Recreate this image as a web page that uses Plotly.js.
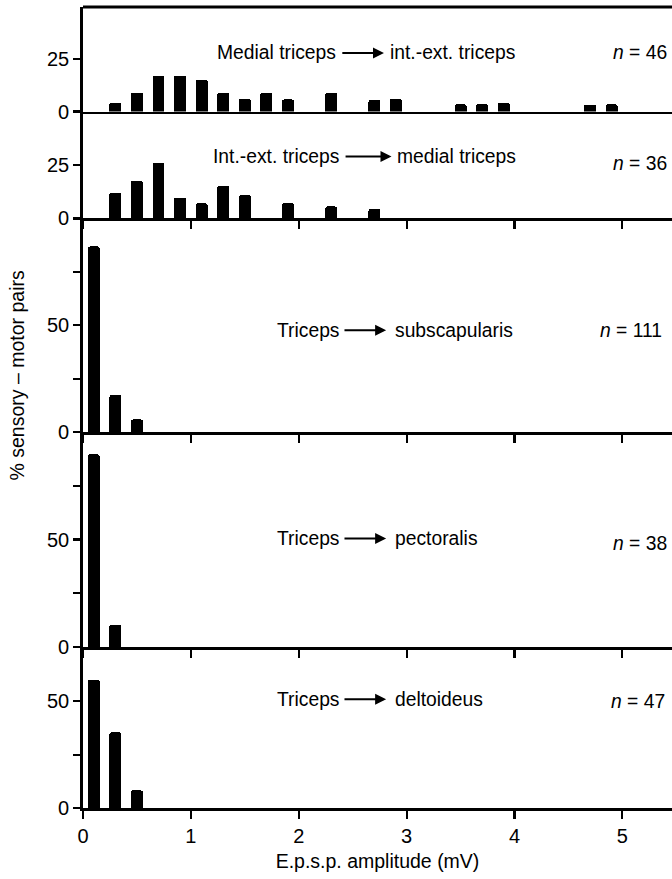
<!DOCTYPE html>
<html>
<head>
<meta charset="utf-8">
<script src="https://cdn.plot.ly/plotly-3.0.1.min.js"></script>
<style>html,body{margin:0;padding:0;background:#fff;}#chart{width:672px;height:879px;}</style>
</head>
<body>
<div id="chart"></div>
<script>
// E.p.s.p. amplitude bin centres (mV) and % of sensory-motor pairs
const bins1 = [0.3,0.5,0.7,0.9,1.1,1.3,1.5,1.7,1.9,2.3,2.7,2.9,3.5,3.7,3.9,4.7,4.9];
const pct1  = [4.3,9.1,17.2,17.2,15.2,9.1,6.1,9.1,5.8,9.1,5.5,6.1,3.5,3.5,4.2,3.3,3.5];
const bins2 = [0.3,0.5,0.7,0.9,1.1,1.3,1.5,1.9,2.3,2.7];
const pct2  = [12.1,17.7,26.1,9.8,7.1,15.2,10.9,7.1,5.6,4.4];
const bins3 = [0.1,0.3,0.5];
const pct3  = [86.9,17.4,5.9];
const bins4 = [0.1,0.3];
const pct4  = [89.6,10.4];
const bins5 = [0.1,0.3,0.5];
const pct5  = [60.2,35.5,8.3];

const panelFrom = ["Medial triceps","Int.-ext. triceps","Triceps","Triceps","Triceps"];
const panelTo   = ["int.-ext. triceps","medial triceps","subscapularis","pectoralis","deltoideus"];
const panelN    = ["46","36","111","38","47"];
const xTickVals = [0,1,2,3,4,5];
const xTickText = ["0","1","2","3","4","5"];
const xTitle = "E.p.s.p. amplitude (mV)";
const yTitle = "% sensory \u2013 motor pairs";

const FONT = "Liberation Sans, Arial, Helvetica, sans-serif";
const TXT = 19.3;
const allBins = [bins1,bins2,bins3,bins4,bins5];
const allPct = [pct1,pct2,pct3,pct4,pct5];

const traces = allBins.map((b,i)=>({
  type:'bar', x:b, y:allPct[i], width:0.11,
  xaxis: i===0?'x':'x'+(i+1), yaxis: i===0?'y':'y'+(i+1),
  marker:{color:'#000', line:{width:0}, cornerradius:2},
  showlegend:false, hoverinfo:'skip'
}));

const domains = [[0.8695,1],[0.736,0.8695],[0.4694,0.736],[0.201,0.4694],[0,0.201]];
const yRanges = [[0,50],[0,50],[0,100],[0,100],[0,75.5]];
const yTicks = [[0,25],[0,25],[0,25,50,75],[0,25,50,75],[0,25,50]];
const yTickText = [["0","25"],["0","25"],["0","","50",""],["0","","50",""],["0","","50"]];

const layout = {
  width:672, height:879,
  margin:{l:83, r:0, t:7, b:71},
  paper_bgcolor:'#fff', plot_bgcolor:'#fff',
  font:{family:FONT, size:TXT, color:'#000'},
  bargap:0,
  annotations:[], shapes:[]
};

for(let i=0;i<5;i++){
  const xs = i===0?'xaxis':'xaxis'+(i+1);
  const ys = i===0?'yaxis':'yaxis'+(i+1);
  const yid = i===0?'y':'y'+(i+1);
  const xid = i===0?'x':'x'+(i+1);
  layout[xs] = {
    domain:[0,1], anchor:yid, range:[0,5.46], fixedrange:true,
    showline:true, linewidth:2.8, linecolor:'#000', mirror:false,
    showgrid:false, zeroline:false,
    tickvals:xTickVals, ticktext:xTickText,
    ticks: i===0?'':'outside', ticklen:8, tickwidth:2.2, tickcolor:'#000',
    showticklabels: i===4,
    tickfont:{family:FONT, size:20, color:'#000'}
  };
  if(i===4){
    layout[xs].title = {text:xTitle, font:{family:FONT,size:19.5,color:'#000'}, standoff:9};
  }
  layout[ys] = {
    domain:domains[i], anchor:xid, range:yRanges[i], fixedrange:true,
    showline:true, linewidth:2.8, linecolor:'#000',
    showgrid:false, zeroline:false,
    tickvals:yTicks[i], ticktext:yTickText[i],
    ticks:'outside', ticklen:7, tickwidth:2.2, tickcolor:'#000',
    tickfont:{family:FONT, size:20, color:'#000'}
  };
}

// Panel text: label, arrow, target, n
const labelY = [28.0, 29.0, 47.7, 50.5, 51.0];
const nY     = [28.0, 25.5, 47.7, 48.0, 50.0];
const nRight = [5.436, 5.436, 5.39, 5.436, 5.41];
const fromRight = [2.365, 2.39, 2.40, 2.40, 2.40];
const arrowTail = [2.39, 2.42, 2.41, 2.41, 2.41];
const arrowHead = [2.79, 2.86, 2.81, 2.81, 2.81];
const toLeft    = [2.83, 2.89, 2.875, 2.875, 2.875];
for(let i=0;i<5;i++){
  const xid = i===0?'x':'x'+(i+1);
  const yid = i===0?'y':'y'+(i+1);
  layout.annotations.push({xref:xid, yref:yid, x:fromRight[i], y:labelY[i], text:panelFrom[i],
    showarrow:false, xanchor:'right', yanchor:'middle', font:{family:FONT,size:TXT,color:'#000'}});
  layout.annotations.push({xref:xid, yref:yid, x:toLeft[i], y:labelY[i], text:panelTo[i],
    showarrow:false, xanchor:'left', yanchor:'middle', font:{family:FONT,size:TXT,color:'#000'}});
  layout.annotations.push({xref:xid, yref:yid, axref:xid, ayref:yid,
    x:arrowHead[i], y:labelY[i], ax:arrowTail[i], ay:labelY[i], text:'',
    showarrow:true, arrowhead:2, arrowsize:1.1, arrowwidth:2, arrowcolor:'#000', standoff:0, startstandoff:0});
  layout.annotations.push({xref:xid, yref:yid, x:nRight[i], y:nY[i], text:'<i>n</i> = '+panelN[i],
    showarrow:false, xanchor:'right', yanchor:'middle', font:{family:FONT,size:TXT,color:'#000'}});
}
layout.annotations.push({xref:'paper', yref:'paper', x:-0.112, y:0.54, text:yTitle, textangle:-90,
  showarrow:false, xanchor:'center', yanchor:'middle', font:{family:FONT,size:19.5,color:'#000'}});

// top border of first panel
layout.shapes.push({type:'line', xref:'paper', yref:'paper', x0:0, x1:1, y0:1, y1:1,
  line:{color:'#000', width:2.8}});

Plotly.newPlot('chart', traces, layout, {staticPlot:true, displayModeBar:false});
</script>
</body>
</html>
